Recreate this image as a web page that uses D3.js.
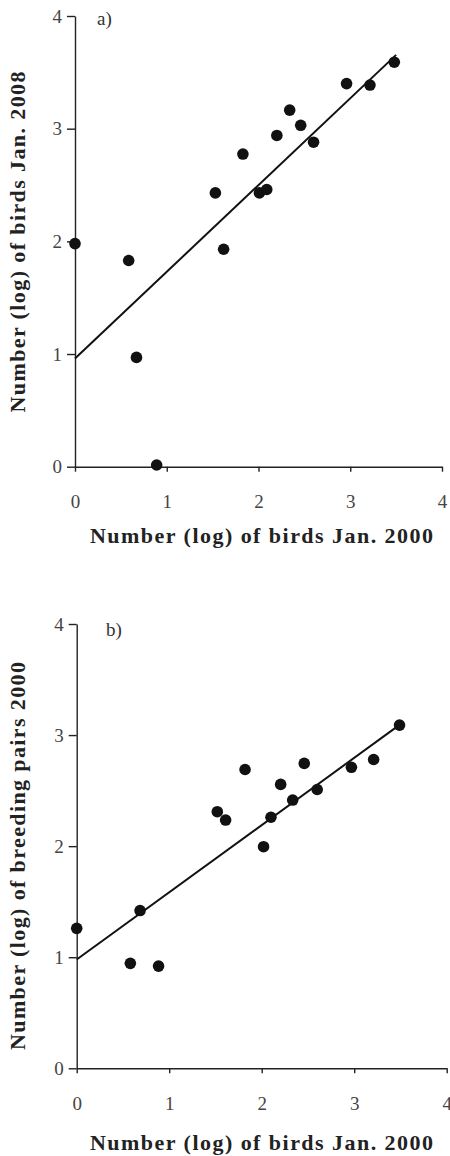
<!DOCTYPE html>
<html>
<head>
<meta charset="utf-8">
<script src="https://cdn.jsdelivr.net/npm/d3@7"></script>
<style>
  body { margin: 0; background: #fff; }
  svg { display: block; }
  .axis path, .axis line { stroke: #222; stroke-width: 1.4; }
  .axis text { font-family: 'Liberation Serif', serif; font-size: 19px; fill: #444; }
  .title { font-family: 'Liberation Serif', serif; font-size: 22px; font-weight: bold; fill: #222; }
  .tag { font-family: 'Liberation Serif', serif; font-size: 19px; fill: #333; }
</style>
</head>
<body>
<svg width="450" height="1156"></svg>
<script>
const ticks = [0, 1, 2, 3, 4]

// panel a) birds Jan. 2000 vs birds Jan. 2008 (log)
const birds2000A = [0, 0.585, 0.67, 0.89, 1.53, 1.62, 1.83, 2.01, 2.09, 2.20, 2.34, 2.46, 2.60, 2.96, 3.215, 3.48]
const birds2008 = [1.98, 1.83, 0.97, 0.015, 2.43, 1.93, 2.775, 2.43, 2.46, 2.94, 3.165, 3.03, 2.88, 3.40, 3.387, 3.59]
const fitA = [0.96, 0.77]   // intercept, slope
const fitRangeA = [0, 3.5]

// panel b) birds Jan. 2000 vs breeding pairs 2000 (log)
const birds2000B = [0, 0.58, 0.685, 0.885, 1.52, 1.61, 1.82, 2.02, 2.10, 2.205, 2.335, 2.46, 2.60, 2.97, 3.21, 3.49]
const pairs2000 = [1.26, 0.945, 1.42, 0.92, 2.31, 2.235, 2.69, 1.995, 2.26, 2.556, 2.415, 2.745, 2.51, 2.71, 2.78, 3.09]
const fitB = [0.98, 0.605]
const fitRangeB = [0, 3.49]

const svg = d3.select('svg')

function panel(opts) {
  const x = d3.scaleLinear().domain([0, 4]).range(opts.xr)
  const y = d3.scaleLinear().domain([0, 4]).range(opts.yr)
  const g = svg.append('g')

  g.append('g')
    .attr('class', 'axis')
    .attr('transform', `translate(${opts.xr[0]},0)`)
    .call(d3.axisLeft(y).tickValues(ticks).tickFormat(d3.format('d'))
      .tickSize(8).tickSizeOuter(0).tickPadding(5))

  g.append('g')
    .attr('class', 'axis')
    .attr('transform', `translate(0,${opts.yr[0]})`)
    .call(d3.axisBottom(x).tickValues(ticks).tickFormat(d3.format('d'))
      .tickSize(5).tickSizeOuter(0).tickPadding(23))

  g.selectAll('.domain').attr('fill', 'none')

  // regression line
  g.append('line')
    .attr('x1', x(opts.fitRange[0]))
    .attr('y1', y(opts.fit[0] + opts.fit[1] * opts.fitRange[0]))
    .attr('x2', x(opts.fitRange[1]))
    .attr('y2', y(opts.fit[0] + opts.fit[1] * opts.fitRange[1]))
    .attr('stroke', '#111')
    .attr('stroke-width', 2)

  g.selectAll('circle')
    .data(d3.zip(opts.xs, opts.ys))
    .enter()
    .append('circle')
    .attr('cx', d => x(d[0]))
    .attr('cy', d => y(d[1]))
    .attr('r', 5.8)
    .attr('fill', '#111')

  g.append('text')
    .attr('class', 'tag')
    .attr('x', opts.tagPos[0])
    .attr('y', opts.tagPos[1])
    .text(opts.tag)

  g.append('text')
    .attr('class', 'title')
    .attr('text-anchor', 'middle')
    .attr('x', 261.5)
    .attr('y', opts.xTitleY)
    .attr('textLength', 343)
    .attr('lengthAdjust', 'spacing')
    .text('Number (log) of birds Jan. 2000')

  g.append('text')
    .attr('class', 'title')
    .attr('text-anchor', 'middle')
    .attr('transform', `translate(25,${opts.yTitle[0]}) rotate(-90)`)
    .attr('textLength', opts.yTitle[1])
    .attr('lengthAdjust', 'spacing')
    .text(opts.yLabel)
}

panel({
  xr: [75, 442], yr: [466.7, 16],
  xs: birds2000A, ys: birds2008,
  fit: fitA, fitRange: fitRangeA,
  tag: 'a)', tagPos: [97, 25],
  xTitleY: 543,
  yTitle: [242, 341],
  yLabel: 'Number (log) of birds Jan. 2008'
})

panel({
  xr: [76.7, 446.7], yr: [1068.3, 624],
  xs: birds2000B, ys: pairs2000,
  fit: fitB, fitRange: fitRangeB,
  tag: 'b)', tagPos: [106, 636],
  xTitleY: 1150,
  yTitle: [856, 388],
  yLabel: 'Number (log) of breeding pairs 2000'
})
</script>
</body>
</html>
